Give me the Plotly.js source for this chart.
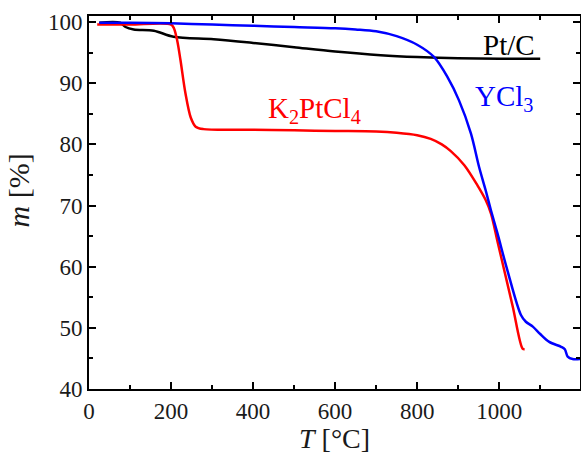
<!DOCTYPE html>
<html>
<head>
<meta charset="utf-8">
<script src="https://cdn.plot.ly/plotly-3.0.1.min.js"></script>
<style>
  html, body { margin: 0; padding: 0; background: #ffffff; }
  #chart { width: 581px; height: 452px; }
</style>
</head>
<body>
<div id="chart"></div>
<script>
// Pt/C
const ptcT = [25, 76, 89, 109, 158, 206, 304, 400, 500, 600, 711, 800, 900, 1000, 1100];
const ptcM = [99.9, 99.9, 99.2, 98.8, 98.6, 97.6, 97.2, 96.6, 95.9, 95.2, 94.6, 94.3, 94.1, 94.0, 94.0];

// K2PtCl4
const kT = [20, 100, 200, 207, 215, 223, 235, 248, 260, 279, 400, 500, 600, 700, 750, 800, 833, 860, 882, 915, 947, 967, 980, 996, 1012, 1033, 1057, 1062];
const kM = [99.6, 99.6, 99.6, 99.0, 97.0, 93.8, 88.4, 84.4, 82.9, 82.5, 82.4, 82.3, 82.2, 82.1, 81.9, 81.5, 80.9, 80.0, 78.9, 76.6, 73.3, 70.9, 68.7, 64.1, 59.5, 53.5, 46.6, 46.5];

// YCl3
const yT = [25, 100, 200, 300, 400, 500, 600, 650, 700, 750, 800, 841, 874, 902, 931, 951, 967, 980, 996, 1020, 1053, 1065, 1082, 1100, 1122, 1151, 1160, 1167, 1179, 1197];
const yM = [99.9, 99.9, 99.8, 99.6, 99.4, 99.2, 99.0, 98.8, 98.5, 97.7, 96.3, 94.3, 91.0, 87.2, 81.8, 76.3, 72.5, 69.2, 65.4, 59.4, 52.1, 51.0, 50.2, 49.0, 47.7, 46.9, 46.5, 45.3, 44.9, 44.9];

const seriesNames = ['Pt/C', 'K<sub>2</sub>PtCl<sub>4</sub>', 'YCl<sub>3</sub>'];

const FONT = "'Liberation Serif', 'Times New Roman', serif";

function tr(x, y, color) {
  return {
    x: x, y: y, type: 'scatter', mode: 'lines',
    line: { color: color, width: 2.5, shape: 'spline', smoothing: 0.9 },
    hoverinfo: 'skip', showlegend: false
  };
}

const data = [
  tr(ptcT, ptcM, '#000000'),
  tr(kT, kM, '#ff0000'),
  tr(yT, yM, '#0000ff')
];

const axisCommon = {
  showline: true, linecolor: '#000', linewidth: 2, mirror: 'ticks',
  ticks: 'inside', ticklen: 7, tickwidth: 2, tickcolor: '#000',
  showgrid: false, zeroline: false,
  tickfont: { family: FONT, size: 23, color: '#1a1a1a' }
};

const layout = {
  width: 581, height: 452,
  margin: { l: 89, r: 1, t: 16, b: 63 },
  paper_bgcolor: '#ffffff', plot_bgcolor: '#ffffff',
  font: { family: FONT, color: '#1a1a1a' },
  xaxis: Object.assign({}, axisCommon, {
    range: [0, 1197], dtick: 200, tick0: 0,
    minor: { dtick: 100, ticklen: 4, tickwidth: 2, ticks: 'inside', tickcolor: '#000' }
  }),
  yaxis: Object.assign({}, axisCommon, {
    range: [40, 101], dtick: 10, tick0: 0,
    minor: { dtick: 5, ticklen: 4, tickwidth: 2, ticks: 'inside', tickcolor: '#000' }
  }),
  annotations: [
    { text: '<i>T</i> [°C]', xref: 'paper', yref: 'paper', x: 0.5, y: 0, yshift: -49,
      showarrow: false, xanchor: 'center', yanchor: 'middle', font: { family: FONT, size: 28, color: '#1a1a1a' } },
    { text: '<i>m</i> [%]', xref: 'paper', yref: 'paper', x: 0, xshift: -71, y: 0.5, yshift: 12,
      showarrow: false, textangle: -90, xanchor: 'center', yanchor: 'middle', font: { family: FONT, size: 30, color: '#1a1a1a' } },
    { text: seriesNames[0], x: 1024, y: 96.3, showarrow: false, xanchor: 'center', yanchor: 'middle',
      font: { family: FONT, size: 29, color: '#000000' } },
    { text: seriesNames[1], x: 549, y: 85.6, showarrow: false, xanchor: 'center', yanchor: 'middle',
      font: { family: FONT, size: 29, color: '#ff0000' } },
    { text: seriesNames[2], x: 1012, y: 87.6, showarrow: false, xanchor: 'center', yanchor: 'middle',
      font: { family: FONT, size: 29, color: '#0000ff' } }
  ]
};

Plotly.newPlot('chart', data, layout, { staticPlot: true, displayModeBar: false });
</script>
</body>
</html>
